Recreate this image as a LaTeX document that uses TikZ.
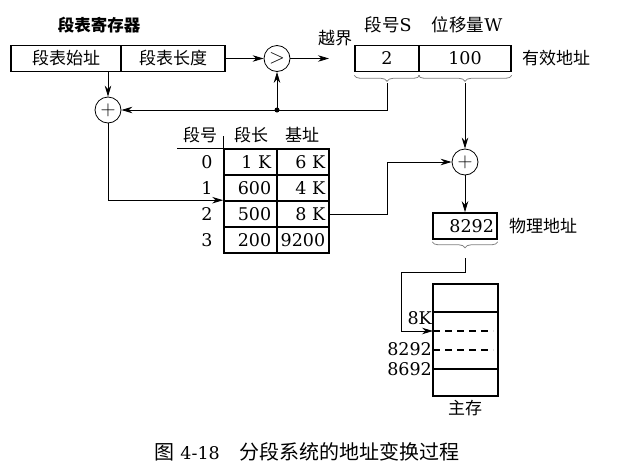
\documentclass[tikz,border=0pt]{standalone}
\usepackage{fontspec}
\setmainfont{DejaVu Serif}
\newfontfamily\cjk{Noto Sans CJK SC}
\usepackage{tikz}
\usetikzlibrary{calc,decorations.pathreplacing,positioning,arrows.meta}

\begin{document}
\begin{tikzpicture}[x=1pt, y=-1pt,
  every node/.style={font=\fontsize{17.5}{20}\selectfont},
  cell/.style={draw, line width=1.6pt, minimum height=26pt, inner sep=0pt},
  op/.style={draw, circle, line width=0.8pt, minimum size=26pt, inner sep=0pt, font=\fontsize{22}{22}\selectfont},
  arr/.style={-{Stealth[length=11pt, width=6.5pt]}, line width=0.8pt},
  brc/.style={decorate, decoration={brace, mirror, amplitude=6pt}, gray, line width=0.8pt},
]
\useasboundingbox (0,0) rectangle (619,469);

% Segment table register
\node[font=\fontsize{16.5}{18}\selectfont\cjk\bfseries] (regtitle) at (99,25) {段表寄存器};
\node[cell, minimum width=110pt, font=\fontsize{17}{20}\selectfont\cjk] (regbase) at (66,58.5) {段表始址};
\node[cell, minimum width=104pt, font=\fontsize{17}{20}\selectfont\cjk] (reglen) at (173,58.5) {段表长度};

% Comparator and overflow
\node[op] (cmp) at (277,58.5) {$>$};
\coordinate (ovf) at (329,58.5);
\node[font=\fontsize{17}{20}\selectfont\cjk] (ovflabel) at (335,38) {越界};

% Logical address
\node (segnolabel) at (388,25) {{\cjk 段号}S};
\node (offlabel) at (467,25) {{\cjk 位移量}W};
\node[cell, minimum width=64pt] (segno) at (387,58.5) {2};
\node[cell, minimum width=92pt] (offset) at (465,58.5) {100};
\node[font=\fontsize{17}{20}\selectfont\cjk] (effaddr) at (556,58) {有效地址};
\draw[brc] ([yshift=-3pt]segno.south west) -- ([yshift=-3pt]segno.south east);
\draw[brc] ([yshift=-3pt]offset.south west) -- ([yshift=-3pt]offset.south east);
\coordinate (segtip) at (387,83);
\coordinate (offtip) at (465,83);
\coordinate (jn) at (277,110);

% Adders
\node[op] (add1) at (108,110) {$+$};
\node[op] (add2) at (465,162) {$+$};

% Segment table
\node[font=\fontsize{17}{20}\selectfont\cjk] (hsegno) at (200,135) {段号};
\node[font=\fontsize{17}{20}\selectfont\cjk] (hlen) at (251,135) {段长};
\node[font=\fontsize{17}{20}\selectfont\cjk] (hbase) at (302,135) {基址};
\foreach \len/\base [count=\i from 0] in {1 K/6 K, 600/4 K, 500/8 K, 200/9200} {
  \node[cell, minimum width=53pt] (len\i) at (250.5,162+26*\i) {};
  \node[cell, minimum width=52pt] (base\i) at (303,162+26*\i) {};
  \node[anchor=east] at ([xshift=-3pt]len\i.east) {\len};
  \node[anchor=east] at ([xshift=-1pt]base\i.east) {\base};
  \node (row\i) at (207,162+26*\i) {\i};
}
\draw[line width=0.8pt] (len0.north west) -- ++(0,-12);
\draw[line width=0.8pt] (len0.north west) -- ++(-46,0);

% Physical address
\node[cell, minimum width=64pt, text width=58pt, align=right, inner xsep=3pt] (phys) at (465,226) {8292};
\node[font=\fontsize{17}{20}\selectfont\cjk] (physlabel) at (543,226) {物理地址};
\draw[brc] ([yshift=-2pt]phys.south west) -- ([yshift=-2pt]phys.south east);
\coordinate (phystip) at (465,258);

% Main memory
\node[cell, minimum width=65pt, minimum height=112pt] (mem) at (465.5,340) {};
\draw[line width=1.6pt] (433,312) -- (498,312);
\draw[line width=1.6pt] (433,369) -- (498,369);
\draw[line width=1.4pt, dash pattern=on 7pt off 5pt] (433,331) -- (493,331);
\draw[line width=1.4pt, dash pattern=on 7pt off 5pt] (433,350) -- (493,350);
\coordinate (mem8k) at (433,331);
\node[anchor=east, inner sep=1pt] (lbl8k) at (433,318) {8K};
\node[anchor=east, inner sep=1pt] (lbl8292) at (433,349) {8292};
\node[anchor=east, inner sep=1pt] (lbl8692) at (433,369) {8692};
\node[font=\fontsize{17}{20}\selectfont\cjk] (memlabel) at (465,408) {主存};

% Arrows
\draw[arr] (reglen) -- (cmp);
\draw[arr] (cmp) -- (ovf);
\draw[arr] (regbase.south -| add1) -- (add1);
\draw[arr] (segtip) |- (add1);
\fill (jn) circle (2.5pt);
\draw[arr] (jn) -- (cmp);
\draw[arr] (add1) |- (len2.north west);
\draw[arr] (base2.east) -- ++(58,0) |- (add2);
\draw[arr] (offtip) -- (add2);
\draw[arr] (add2) -- (phys);
\draw[arr] (phystip) |- ++(-64,14) |- (mem8k);

% Caption
\node (caption) at (307,452) {{\cjk\fontsize{20}{22}\selectfont 图}\ 4-18\hspace{1.1em}{\cjk\fontsize{20}{22}\selectfont 分段系统的地址变换过程}};

\end{tikzpicture}
\end{document}
